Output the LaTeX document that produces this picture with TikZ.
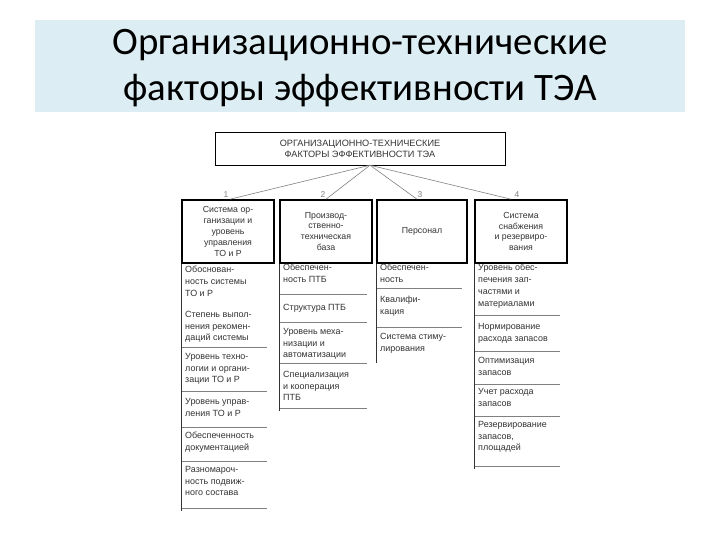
\documentclass[tikz,border=0pt]{standalone}
\usepackage{fontspec}
\setmainfont{Liberation Sans}
\newfontfamily\titlefont{Carlito}
\usepackage{xcolor}
\usepackage{tikz}
\definecolor{bandblue}{HTML}{DCEEF4}
\definecolor{inkgray}{HTML}{333333}

\begin{document}
\begin{tikzpicture}[x=1bp, y=-1bp,
    factor/.style={draw, line width=1.6pt, minimum width=92bp, minimum height=63bp,
      align=center, inner sep=1pt, text=inkgray, font=\fontsize{8.8}{11}\selectfont},
    item/.style={anchor=north west, align=left, inner sep=0pt, text=inkgray,
      font=\fontsize{9}{11.8}\selectfont},
    num/.style={above, inner sep=1pt, font=\fontsize{8.5}{10}\selectfont},
    link/.style={gray, line width=0.6pt},
    rule/.style={gray, line width=0.7pt}]
    \useasboundingbox (0,0) rectangle (720,540);
    \fill[bandblue] (35,20) rectangle (685,112);
    \node (title) at (360,68) [align=center, font=\titlefont\fontsize{39}{47}\selectfont] {Организационно-технические\\факторы эффективности ТЭА};

    % top box and the four groups
    \node (top) [draw, minimum width=290bp, minimum height=33bp, align=center, text=inkgray, font=\fontsize{9.2}{11}\selectfont] at (360,148.5) {ОРГАНИЗАЦИОННО-ТЕХНИЧЕСКИЕ\\ФАКТОРЫ ЭФФЕКТИВНОСТИ ТЭА};
    \node (sys) [factor] at (228,231.5) {Система ор-\\ганизации и\\уровень\\управления\\ТО и Р};
    \node (ptb) [factor] at (326,231.5) {Производ-\\ственно-\\техническая\\база};
    \node (staff) [factor, minimum width=90bp] at (422,231.5) {Персонал};
    \node (supply) [factor] at (521,231.5) {Система\\снабжения\\и резервиро-\\вания};

    \coordinate (hub) at ([xshift=10bp]top.south);
    \draw[link] (hub) -- ([xshift=2bp]sys.north) node[num, xshift=-4bp] {1};
    \draw[link] (hub) -- (ptb.north) node[num, xshift=-3bp] {2};
    \draw[link] (hub) -- ([xshift=-5bp]staff.north) node[num, xshift=3bp] {3};
    \draw[link] (hub) -- ([xshift=-10bp]supply.north) node[num, xshift=6bp] {4};

    % column 1
    \draw[inkgray, line width=0.8pt] (sys.south west) -- ++(0,247);
    \foreach \y in {347,391,427,461,508} \draw[rule] (182,\y) -- ++(85,0);
    \node (s1) [item] at (185,266) {Обоснован-\\ность системы\\ТО и Р};
    \node (s2) [item] at (185,311) {Степень выпол-\\нения рекомен-\\даций системы};
    \node (s3) [item] at (185,353) {Уровень техно-\\логии и органи-\\зации ТО и Р};
    \node (s4) [item] at (185,398) {Уровень управ-\\ления ТО и Р};
    \node (s5) [item] at (185,432) {Обеспеченность\\документацией};
    \node (s6) [item] at (185,466) {Разномароч-\\ность подвиж-\\ного состава};

    % column 2
    \draw[inkgray, line width=0.8pt] (ptb.south west) -- ++(0,147);
    \foreach \y in {294,322,363,408} \draw[rule] (280,\y) -- ++(87,0);
    \node (p1) [item] at (283,264) {Обеспечен-\\ность ПТБ};
    \node (p2) [item] at (283,304) {Структура ПТБ};
    \node (p3) [item] at (283,328) {Уровень меха-\\низации и\\автоматизации};
    \node (p4) [item] at (283,371) {Специализация\\и кооперация\\ПТБ};

    % column 3
    \draw[inkgray, line width=0.8pt] (staff.south west) -- ++(0,99);
    \foreach \y in {288,327} \draw[rule] (377,\y) -- ++(85,0);
    \node (k1) [item] at (380,264) {Обеспечен-\\ность};
    \node (k2) [item] at (380,296) {Квалифи-\\кация};
    \node (k3) [item] at (380,333) {Система стиму-\\лирования};

    % column 4
    \draw[inkgray, line width=0.8pt] (supply.south west) -- ++(0,205);
    \foreach \y in {315,351,384,416,466} \draw[rule] (475,\y) -- ++(85,0);
    \node (z1) [item] at (478,264) {Уровень обес-\\печения зап-\\частями и\\материалами};
    \node (z2) [item] at (478,323) {Нормирование\\расхода запасов};
    \node (z3) [item] at (478,357) {Оптимизация\\запасов};
    \node (z4) [item] at (478,388) {Учет расхода\\запасов};
    \node (z5) [item] at (478,421) {Резервирование\\запасов,\\площадей};
\end{tikzpicture}
\end{document}
